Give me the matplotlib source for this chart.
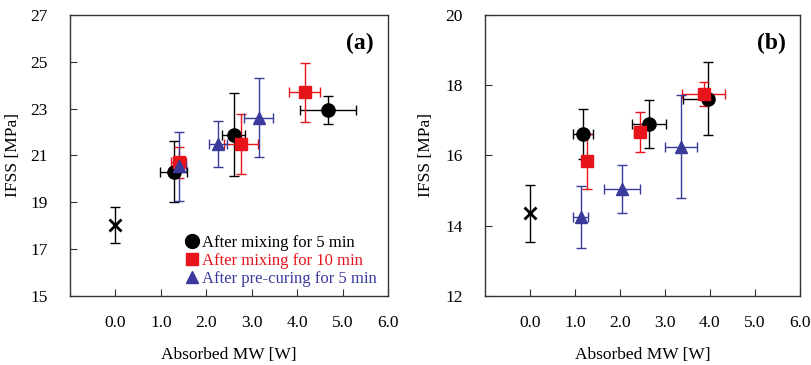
import matplotlib.pyplot as plt
from matplotlib.lines import Line2D

plt.rcParams['font.family'] = ['Liberation Serif', 'DejaVu Serif']

RED = '#e8141c'
BLUE = '#3a3a9c'

# control (no MW)
ctrl_a = (0.0, 18.02, 0.76)
ctrl_b = (0.0, 14.35, 0.82)

# panel (a): x, xerr, y, yerr
a_mix5_x = [1.28, 2.60, 4.68]
a_mix5_xe = [0.30, 0.26, 0.61]
a_mix5_y = [20.30, 21.88, 22.93]
a_mix5_ye = [1.30, 1.77, 0.60]

a_mix10_x = [1.39, 2.76, 4.17]
a_mix10_xe = [0.17, 0.38, 0.34]
a_mix10_y = [20.71, 21.50, 23.69]
a_mix10_ye = [0.67, 1.27, 1.27]

a_pre_x = [1.41, 2.25, 3.15]
a_pre_xe = [0.15, 0.20, 0.31]
a_pre_y = [20.54, 21.49, 22.61]
a_pre_ye = [1.48, 1.00, 1.68]

# panel (b)
b_mix5_x = [1.19, 2.65, 3.97]
b_mix5_xe = [[0.22, 0.38, 0.57], [0.22, 0.38, 0.0]]  # lower / upper
b_mix5_y = [16.61, 16.89, 17.62]
b_mix5_ye = [0.70, 0.69, 1.04]

b_mix10_x = [1.27, 2.44, 3.86]
b_mix10_xe = [0.10, 0.12, 0.48]
b_mix10_y = [15.83, 16.66, 17.74]
b_mix10_ye = [0.77, 0.57, 0.34]

b_pre_x = [1.13, 2.04, 3.36]
b_pre_xe = [0.16, 0.40, 0.35]
b_pre_y = [14.26, 15.04, 16.25]
b_pre_ye = [0.88, 0.68, 1.47]

labels = ['After mixing for 5 min', 'After mixing for 10 min', 'After pre-curing for 5 min']


def panel(ax, ctrl, series, ylim, yticks, tag, ylab_x):
    ax.errorbar(ctrl[0], ctrl[1], yerr=ctrl[2], fmt='none', ecolor='black',
                elinewidth=1, capsize=3.5, capthick=1)
    ax.plot(ctrl[0], ctrl[1], 'x', color='black', ms=8, mew=2)
    for x, xe, y, ye, fmt, c, ms in series:
        ax.errorbar(x, y, xerr=xe, yerr=ye, fmt=fmt, color=c, ecolor=c, ms=ms,
                    elinewidth=1, capsize=3.5, capthick=1)
    ax.set_xlim(-1, 6)
    ax.set_ylim(*ylim)
    ax.set_xticks([0, 1, 2, 3, 4, 5, 6])
    ax.set_xticklabels(['0.0', '1.0', '2.0', '3.0', '4.0', '5.0', '6.0'])
    ax.set_yticks(yticks)
    ax.tick_params(axis='x', direction='in', length=5, pad=14, labelsize=12.5, color='#333333')
    ax.tick_params(axis='y', direction='in', length=5, pad=16, labelsize=12.5, color='#333333')
    for s in ax.spines.values():
        s.set_color('#333333')
        s.set_linewidth(1)
    ax.set_xlabel('Absorbed MW [W]', fontsize=12.5, labelpad=11)
    ax.set_ylabel('IFSS [MPa]', fontsize=12.5)
    ax.yaxis.set_label_coords(ylab_x, 0.5)
    ax.text(0.955, 0.9, tag, transform=ax.transAxes, ha='right', va='center',
            fontsize=17, fontweight='bold')


fig = plt.figure(figsize=(8.12, 3.65), dpi=100)
ax1 = fig.add_axes([0.086, 0.189, 0.392, 0.770])
ax2 = fig.add_axes([0.597, 0.189, 0.388, 0.770])

panel(ax1, ctrl_a, [
    (a_mix5_x, a_mix5_xe, a_mix5_y, a_mix5_ye, 'o', 'black', 9.5),
    (a_mix10_x, a_mix10_xe, a_mix10_y, a_mix10_ye, 's', RED, 8.5),
    (a_pre_x, a_pre_xe, a_pre_y, a_pre_ye, '^', BLUE, 8.5),
], (15, 27), [15, 17, 19, 21, 23, 25, 27], '(a)', -0.152)

panel(ax2, ctrl_b, [
    (b_mix5_x, b_mix5_xe, b_mix5_y, b_mix5_ye, 'o', 'black', 9.5),
    (b_mix10_x, b_mix10_xe, b_mix10_y, b_mix10_ye, 's', RED, 8.5),
    (b_pre_x, b_pre_xe, b_pre_y, b_pre_ye, '^', BLUE, 8.5),
], (12, 20), [12, 14, 16, 18, 20], '(b)', -0.16)

handles = [
    Line2D([], [], ls='', marker='o', color='black', ms=10),
    Line2D([], [], ls='', marker='s', color=RED, ms=9),
    Line2D([], [], ls='', marker='^', color=BLUE, ms=9),
]
ax1.legend(handles, labels, loc='lower right', bbox_to_anchor=(1.0, -0.008), frameon=False,
           fontsize=12, labelcolor=['black', RED, BLUE], handlelength=0.6,
           handletextpad=0.3, labelspacing=0.12, borderpad=0.2)

plt.savefig('out.png', dpi=100)
